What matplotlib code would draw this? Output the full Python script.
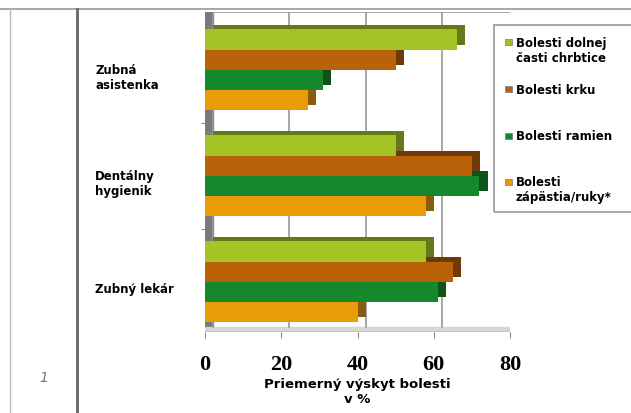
import matplotlib.pyplot as plt
import matplotlib.transforms as mtransforms
from matplotlib.patches import Rectangle
from matplotlib.lines import Line2D

# kategórie (zdola nahor, ako v Exceli)
categories = ['Zubný lekár', 'Dentálny\nhygienik', 'Zubná\nasistenka']
series_names = ['Bolesti dolnej\nčasti chrbtice', 'Bolesti krku', 'Bolesti ramien', 'Bolesti\nzápästia/ruky*']
chrbtica = [58, 50, 66]
krk = [65, 70, 50]
ramena = [61, 72, 31]
zapastie = [40, 58, 27]
xticks = [0, 20, 40, 60, 80]
xlabel = 'Priemerný výskyt bolesti\nv %'

front_colors = ['#a3c424', '#b9620a', '#15882c', '#e99c08']
side_colors = ['#66781a', '#6e3a08', '#0c5418', '#8c5a0c']

W, H = 631, 414
fig = plt.figure(figsize=(W / 100, H / 100), dpi=100)
ax = fig.add_axes([205 / W, 1 - 333 / H, 305 / W, 320 / H])

bar_h = 0.189
dx, dy = 2.1, 0.045
ax.set_xlim(0, 80)
ax.set_ylim(-0.476, -0.476 + 320 / 106)

# 3D stena a podlaha
ymin, ymax = ax.get_ylim()
ax.add_patch(Rectangle((0, ymin), dx, ymax - ymin, color='#7a7a7a', zorder=0))
ax.add_patch(Rectangle((0, ymin), 80 + dx, dy, color='#d6d6d6', zorder=0))
for t in xticks:
    ax.plot([t + dx, t + dx], [ymin + dy, ymax], color='#9a9a9a', lw=1.2, zorder=0.5)
ax.plot([dx, 80 + dx], [ymax, ymax], color='#9a9a9a', lw=1.2, zorder=0.5)
ax.plot([0, 80], [ymin, ymin], color='#888888', lw=1, zorder=0.5)

series = [chrbtica, krk, ramena, zapastie]
offsets = [1.5, 0.5, -0.5, -1.5]
ypos = list(range(len(categories)))
for vals, off, sc in zip(series, offsets, side_colors):
    y = [p + off * bar_h for p in ypos]
    ax.barh([v + dy for v in y], vals, height=bar_h, left=dx, color=sc, zorder=1)
for vals, off, fc in zip(series, offsets, front_colors):
    y = [p + off * bar_h for p in ypos]
    ax.barh(y, vals, height=bar_h, color=fc, zorder=2)

for s in ax.spines.values():
    s.set_visible(False)
ax.set_yticks([0.5, 1.5])
ax.set_yticklabels([])
ax.tick_params(axis='y', length=3, color='#888888')
ax.set_xticks(xticks)
ax.set_xticklabels([str(t) for t in xticks], fontfamily='Liberation Serif',
                   fontweight='bold', fontsize=16)
ax.tick_params(axis='x', length=4, color='#888888', pad=12)

trans = mtransforms.blended_transform_factory(fig.transFigure, ax.transData)
for p, cat in zip(ypos, categories):
    ax.text(95 / W, p - 0.07, cat, transform=trans, ha='left', va='center',
            fontsize=8.5, fontweight='bold', fontfamily='DejaVu Sans',
            linespacing=1.2)

fig.text(357 / W, 1 - 392 / H, xlabel, ha='center', va='center', fontsize=9.5,
         fontweight='bold', fontfamily='DejaVu Sans', linespacing=1.25)

# legenda
fig.patches.append(Rectangle((494 / W, 1 - 213 / H), 150 / W, 187 / H,
                             transform=fig.transFigure, fill=False,
                             edgecolor='#999999', lw=1.2))
leg_y = [43, 90, 137, 183]
for yy, name, fc in zip(leg_y, series_names, front_colors):
    fig.patches.append(Rectangle((505 / W, 1 - (yy + 3) / H), 7 / W, 6 / H,
                                 transform=fig.transFigure, facecolor=fc,
                                 edgecolor='#777777', lw=0.5))
    for i, line in enumerate(name.split('\n')):
        fig.text(516 / W, 1 - (yy + 15 * i) / H, line, ha='left', va='center',
                 fontsize=8.5, fontweight='bold', fontfamily='DejaVu Sans')

# rámik snímky
fig.add_artist(Line2D([0, 1], [1 - 10 / H, 1 - 10 / H], color='#999999', lw=1.2))
fig.add_artist(Line2D([10 / W, 10 / W], [0, 1 - 10 / H], color='#bbbbbb', lw=1))
fig.add_artist(Line2D([77 / W, 77 / W], [0, 1 - 10 / H], color='#666666', lw=2))
fig.text(44 / W, 1 - 378 / H, '1', ha='center', va='center', fontsize=10,
         style='italic', color='#777777')

fig.savefig('out.png', dpi=100)
